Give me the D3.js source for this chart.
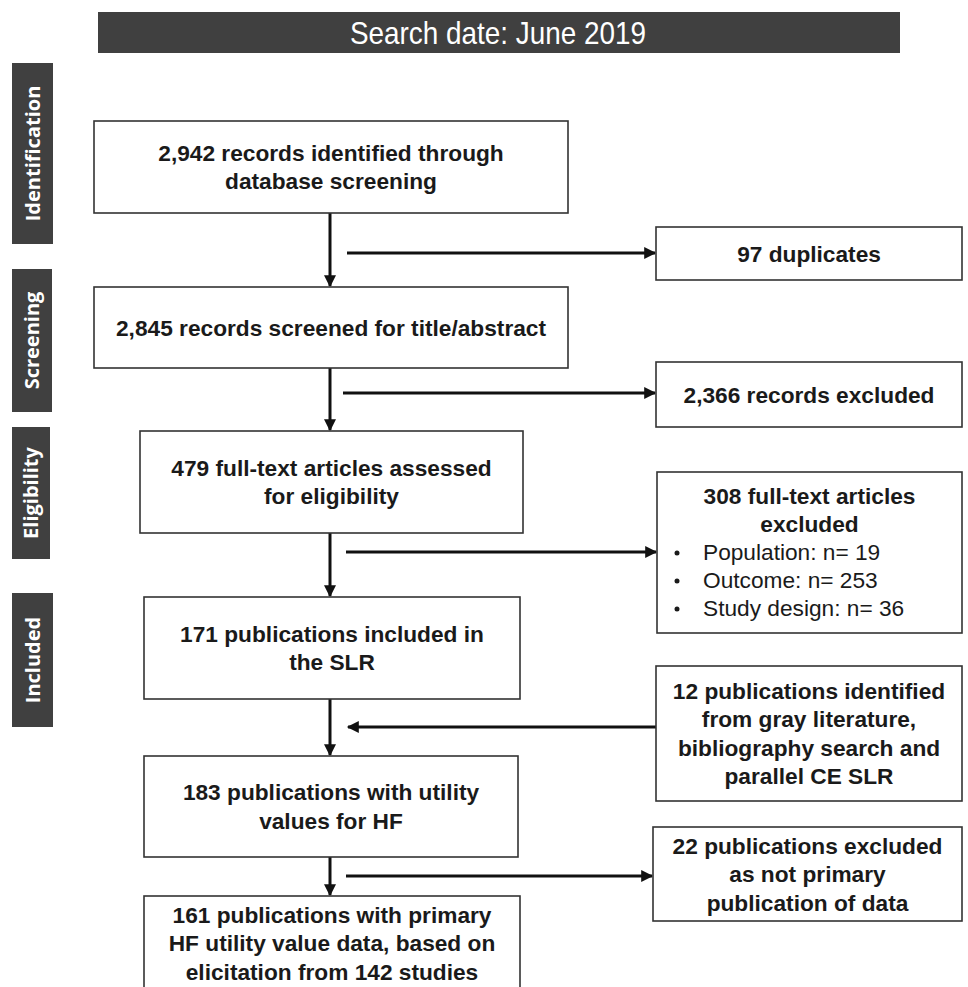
<!DOCTYPE html>
<html><head><meta charset="utf-8">
<script src="https://cdn.jsdelivr.net/npm/d3@7"></script>
<style>
html,body{margin:0;padding:0;background:#fff;}
svg{display:block;}
</style>
</head><body>
<svg id="chart" width="968" height="987"></svg>
<script>
// ---- DATA ----
const titleText = "Search date: June 2019";
const stageLabels = ["Identification", "Screening", "Eligibility", "Included"];
const mainBoxTexts = [
  ["2,942 records identified through", "database screening"],
  ["2,845 records screened for title/abstract"],
  ["479 full-text articles assessed", "for eligibility"],
  ["171 publications included in", "the SLR"],
  ["183 publications with utility", "values for HF"],
  ["161 publications with primary", "HF utility value data, based on", "elicitation from 142 studies"]
];
const sideBoxTitles = [
  ["97 duplicates"],
  ["2,366 records excluded"],
  ["308 full-text articles", "excluded"],
  ["12 publications identified", "from gray literature,", "bibliography search and", "parallel CE SLR"],
  ["22 publications excluded", "as not primary", "publication of data"]
];
const exclusionReasons = ["Population: n= 19", "Outcome: n= 253", "Study design: n= 36"];
const sideArrowDirection = ["out", "out", "out", "in", "out"];

// ---- LAYOUT (positions, not data) ----
const stageLayout = [
  {x: 12, y: 63, w: 41, h: 181},
  {x: 12, y: 269, w: 40, h: 143},
  {x: 12, y: 427, w: 38, h: 132},
  {x: 12, y: 593, w: 41, h: 134}
];
const mainLayout = [
  {x: 94, y: 121, w: 474, h: 92},
  {x: 94, y: 287, w: 474, h: 81},
  {x: 140, y: 431, w: 383, h: 102},
  {x: 144, y: 597, w: 376, h: 102},
  {x: 144, y: 756, w: 374, h: 101},
  {x: 144, y: 896, w: 376, h: 100}
];
const sideLayout = [
  {x: 656, y: 227, w: 306, h: 53, arrowY: 253, fromX: 347},
  {x: 656, y: 362, w: 306, h: 65, arrowY: 393, fromX: 343},
  {x: 657, y: 472, w: 305, h: 161, arrowY: 552, fromX: 346},
  {x: 656, y: 666, w: 306, h: 135, arrowY: 727, fromX: 348},
  {x: 653, y: 827, w: 309, h: 94, arrowY: 876, fromX: 346}
];
const spineX = 330;

const svg = d3.select("#chart");
const dark = "#404040";
const ink = "#1a1a1a";

// arrow marker
const defs = svg.append("defs");
defs.append("marker")
  .attr("id", "arrow")
  .attr("viewBox", "0 0 10 10")
  .attr("refX", 9).attr("refY", 5)
  .attr("markerUnits", "userSpaceOnUse")
  .attr("markerWidth", 13).attr("markerHeight", 12)
  .attr("orient", "auto")
  .append("path").attr("d", "M0,0 L10,5 L0,10 Z").attr("fill", "#111");

// Title bar
svg.append("rect").attr("x", 98).attr("y", 12).attr("width", 802).attr("height", 41).attr("fill", dark);
svg.append("text")
  .attr("transform", "translate(498,33) scale(0.93,1.05)")
  .attr("dy", "0.35em")
  .attr("text-anchor", "middle").attr("fill", "#fff")
  .attr("font-family", "'Liberation Sans',Arial,sans-serif")
  .attr("font-size", 30)
  .text(titleText);

// Stage labels
const stages = svg.append("g").selectAll("g").data(stageLabels).join("g");
stages.append("rect")
  .attr("x", (d, i) => stageLayout[i].x).attr("y", (d, i) => stageLayout[i].y)
  .attr("width", (d, i) => stageLayout[i].w).attr("height", (d, i) => stageLayout[i].h)
  .attr("fill", dark);
stages.append("text")
  .attr("transform", (d, i) => `translate(${stageLayout[i].x + stageLayout[i].w / 2},${stageLayout[i].y + stageLayout[i].h / 2}) rotate(-90)`)
  .attr("text-anchor", "middle").attr("dy", "0.36em")
  .attr("fill", "#fff").attr("font-family", "'Open Sans',sans-serif").attr("font-weight", 700)
  .attr("font-size", 20)
  .text(d => d);

// Vertical spine arrows between main boxes
const spine = d3.range(mainLayout.length - 1).map(i => ({y1: mainLayout[i].y + mainLayout[i].h, y2: mainLayout[i + 1].y}));
svg.append("g").selectAll("line").data(spine).join("line")
  .attr("x1", spineX).attr("x2", spineX)
  .attr("y1", d => d.y1).attr("y2", d => d.y2 - 1)
  .attr("stroke", "#111").attr("stroke-width", 3)
  .attr("marker-end", "url(#arrow)");

// Horizontal arrows
svg.append("g").selectAll("line").data(sideLayout).join("line")
  .attr("x1", (d, i) => sideArrowDirection[i] === "out" ? d.fromX : d.x)
  .attr("x2", (d, i) => sideArrowDirection[i] === "out" ? d.x - 1 : d.fromX)
  .attr("y1", d => d.arrowY).attr("y2", d => d.arrowY)
  .attr("stroke", "#111").attr("stroke-width", 3)
  .attr("marker-end", "url(#arrow)");

const boxFont = "'Liberation Sans',Arial,sans-serif";
const fontSize = 22.7;
const lineH = 28.5;

function drawBox(g, L, lines, opts) {
  g.append("rect").attr("x", L.x).attr("y", L.y).attr("width", L.w).attr("height", L.h)
    .attr("fill", "#fff").attr("stroke", "#333").attr("stroke-width", 1.6);
  const cx = L.x + L.w / 2;
  const cy = opts.cy !== undefined ? opts.cy : L.y + L.h / 2;
  const y0 = cy - (lines.length - 1) * lineH / 2;
  g.selectAll("text.t").data(lines).join("text").attr("class", "t")
    .attr("x", cx).attr("y", (d, i) => y0 + i * lineH).attr("dy", "0.36em")
    .attr("text-anchor", "middle").attr("fill", ink)
    .attr("font-family", boxFont).attr("font-weight", 700).attr("font-size", fontSize)
    .text(d => d);
}

const mainG = svg.append("g");
mainBoxTexts.forEach((lines, i) => {
  const L = mainLayout[i];
  drawBox(mainG.append("g"), L, lines, i === 5 ? {cy: 943} : {});
});

const sideG = svg.append("g");
sideBoxTitles.forEach((lines, i) => {
  const L = sideLayout[i];
  const g = sideG.append("g");
  if (i === 2) {
    drawBox(g, L, lines, {cy: 510});
    const by = 552;
    g.selectAll("text.b").data(exclusionReasons).join("text").attr("class", "b")
      .attr("x", 703).attr("y", (d, j) => by + j * 28).attr("dy", "0.36em")
      .attr("fill", ink).attr("font-family", boxFont).attr("font-size", fontSize)
      .text(d => d);
    g.selectAll("circle").data(exclusionReasons).join("circle")
      .attr("cx", 677).attr("cy", (d, j) => by + j * 28 + 1).attr("r", 2.5).attr("fill", ink);
  } else {
    drawBox(g, L, lines, {});
  }
});
</script>
</body></html>
